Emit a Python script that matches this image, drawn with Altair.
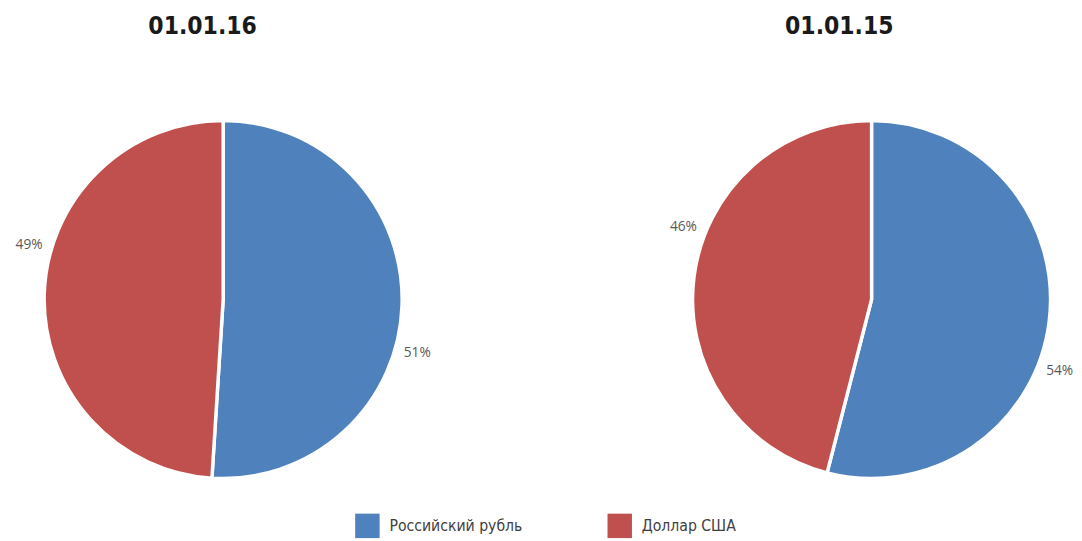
import altair as alt
import pandas as pd

currencies = ["Российский рубль", "Доллар США"]
share_2016 = [51, 49]
share_2015 = [54, 46]
titles = ["01.01.16", "01.01.15"]
colors = ["#4F81BD", "#C0504D"]

COND = "DejaVu Sans Condensed, Liberation Sans Narrow, sans-serif"

def panel(values, title, title_dx):
    df = pd.DataFrame({
        "currency": currencies,
        "share": values,
        "order": list(range(len(values))),
        "label": [f"{v}%" for v in values],
    })
    base = alt.Chart(df)
    arc = base.mark_arc(outerRadius=183, stroke="white", strokeWidth=3.5).encode(
        theta=alt.Theta("share:Q", stack=True),
        order=alt.Order("order:Q"),
        color=alt.Color(
            "currency:N",
            scale=alt.Scale(domain=currencies, range=colors),
            legend=alt.Legend(
                title=None,
                orient="none",
                direction="horizontal",
                legendX=335,
                legendY=419,
                symbolType="square",
                symbolSize=625,
                symbolStrokeWidth=0,
                labelFont=COND,
                labelFontSize=16,
                labelColor="#404040",
                labelOffset=10,
                columnPadding=86,
            ),
        ),
    )
    text = base.mark_text(radius=206, font="Open Sans, sans-serif", fontSize=14,
                          color="#595959").encode(
        theta=alt.Theta("share:Q", stack=True,
                        scale=alt.Scale(range=[0.24, 6.5232])),
        order=alt.Order("order:Q"),
        text="label:N",
    )
    return alt.layer(arc, text).resolve_scale(theta="independent").properties(
        width=400,
        height=400,
        title=alt.TitleParams(
            title,
            font=COND,
            fontSize=25,
            fontWeight="bold",
            color="#1a1a1a",
            offset=66,
            dx=title_dx,
        ),
    )

chart = alt.hconcat(
    panel(share_2016, titles[0], -21),
    panel(share_2015, titles[1], -33),
    spacing=243,
).properties(
    padding={"left": 7, "top": 1, "right": 0, "bottom": 0}
).configure_view(strokeWidth=0)

chart.save("out.html", embed_options={"renderer": "svg", "actions": False})
